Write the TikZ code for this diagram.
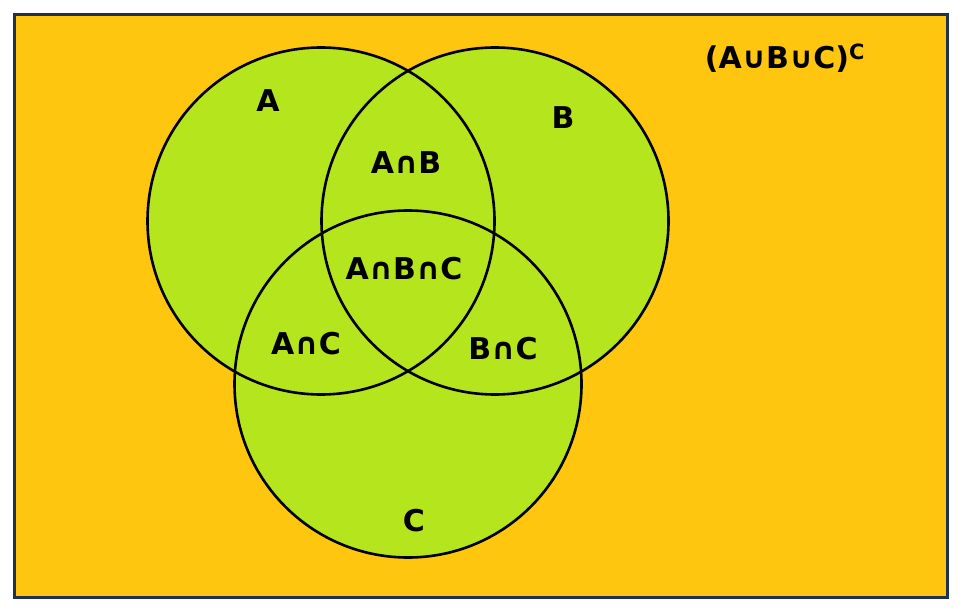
\documentclass[tikz,border=0pt]{standalone}
\usepackage{fontspec}
\setmainfont{DejaVu Sans}
\begin{document}
\begin{tikzpicture}[x=1pt,y=-1pt,
  lbl/.style={font=\bfseries\fontsize{30}{34}\selectfont,inner sep=0pt}]
\definecolor{vorange}{HTML}{FFC60F}
\definecolor{vgreen}{HTML}{B5E51D}
\definecolor{vnavy}{HTML}{1E3150}
\useasboundingbox (0,0) rectangle (963,612);
\draw[vnavy,line width=3pt,fill=vorange] (14.5,14.5) rectangle (947.5,597.5);
\fill[vgreen] (321,221) circle (173.5);
\fill[vgreen] (495,221) circle (173.5);
\fill[vgreen] (408,384) circle (173.5);
\draw[line width=2.6pt] (321,221) circle (173.5);
\draw[line width=2.6pt] (495,221) circle (173.5);
\draw[line width=2.6pt] (408,384) circle (173.5);
\node[lbl] (a) at (268,101) {A};
\node[lbl] (b) at (563,118) {B};
\node[lbl] (c) at (414,521) {C};
\node[lbl] (ab) at (406,163) {A∩B};
\node[lbl] (abc) at (404,269) {A∩B∩C};
\node[lbl] (ac) at (306,344) {A∩C};
\node[lbl] (bc) at (503,349) {B∩C};
\node[lbl] (u) at (785,58) {(A∪B∪C)\textsuperscript{C}};
\end{tikzpicture}
\end{document}
